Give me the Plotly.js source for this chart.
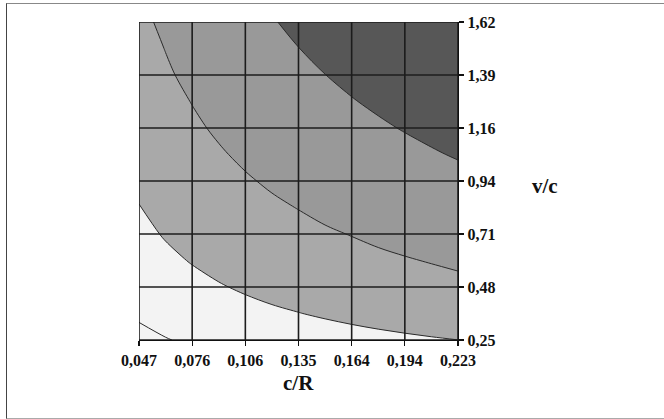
<!DOCTYPE html>
<html>
<head>
<meta charset="utf-8">
<script src="https://cdn.plot.ly/plotly-3.0.1.min.js"></script>
<style>
  html, body { margin: 0; padding: 0; background: #fff; }
  #wrap { position: relative; width: 664px; height: 419px; overflow: hidden; }
  #chart { position: absolute; left: 0; top: 0; width: 664px; height: 419px; }
  #frame { position: absolute; left: 6px; top: 3px; width: 700px; height: 416px; box-sizing: border-box;
           border-top: 1px solid #888; border-left: 1px solid #444; border-bottom: 1px solid #aaa; pointer-events: none; }
</style>
</head>
<body>
<div id="wrap"><div id="chart"></div><div id="frame"></div></div>
<script>
// c/R grid values (x)
const cR = [0.047, 0.06167, 0.07633, 0.0910, 0.10567, 0.12033, 0.1350, 0.14967, 0.16433, 0.1790, 0.19367, 0.20833, 0.2230];
// v/c grid values (y)
const vc = [0.25, 0.36417, 0.47833, 0.5925, 0.70667, 0.82083, 0.935, 1.04917, 1.16333, 1.2775, 1.39167, 1.50583, 1.62];
// level values (rows = v/c, columns = c/R)
const level = [
  [0.739, 0.959, 1.131, 1.273, 1.394, 1.499, 1.592, 1.675, 1.751, 1.820, 1.884, 1.943, 1.998],
  [1.132, 1.351, 1.524, 1.666, 1.786, 1.891, 1.984, 2.082, 2.174, 2.259, 2.336, 2.408, 2.475],
  [1.416, 1.635, 1.808, 1.950, 2.086, 2.214, 2.327, 2.429, 2.521, 2.605, 2.683, 2.755, 2.821],
  [1.639, 1.859, 2.038, 2.211, 2.358, 2.486, 2.599, 2.701, 2.793, 2.877, 2.955, 3.034, 3.119],
  [1.823, 2.052, 2.262, 2.435, 2.582, 2.710, 2.823, 2.925, 3.021, 3.128, 3.226, 3.317, 3.402],
  [1.979, 2.242, 2.452, 2.625, 2.772, 2.900, 3.017, 3.146, 3.262, 3.369, 3.468, 3.559, 3.643],
  [2.140, 2.407, 2.618, 2.791, 2.938, 3.083, 3.227, 3.356, 3.472, 3.579, 3.677, 3.768, 3.853],
  [2.286, 2.554, 2.764, 2.937, 3.107, 3.269, 3.412, 3.541, 3.658, 3.764, 3.863, 3.954, 4.039],
  [2.418, 2.685, 2.895, 3.086, 3.273, 3.435, 3.579, 3.707, 3.824, 3.931, 4.029, 4.120, 4.205],
  [2.537, 2.804, 3.018, 3.237, 3.424, 3.586, 3.729, 3.858, 3.975, 4.081, 4.180, 4.271, 4.356],
  [2.645, 2.913, 3.156, 3.375, 3.562, 3.724, 3.867, 3.996, 4.113, 4.219, 4.318, 4.409, 4.494],
  [2.746, 3.016, 3.283, 3.502, 3.689, 3.851, 3.994, 4.123, 4.240, 4.346, 4.445, 4.536, 4.621],
  [2.838, 3.134, 3.400, 3.620, 3.806, 3.968, 4.112, 4.241, 4.357, 4.464, 4.562, 4.653, 4.738]
];
// tick positions and labels
const xTickVals = [0.047, 0.07633, 0.10567, 0.135, 0.16433, 0.19367, 0.223];
const xTickText = ["0,047", "0,076", "0,106", "0,135", "0,164", "0,194", "0,223"];
const yTickVals = [0.25, 0.47833, 0.70667, 0.935, 1.16333, 1.39167, 1.62];
const yTickText = ["0,25", "0,48", "0,71", "0,94", "1,16", "1,39", "1,62"];

const tickFont = {family: "Liberation Serif, Times New Roman, serif", size: 16, color: "#111", weight: "bold"};
const titleFont = {family: "Liberation Serif, Times New Roman, serif", size: 21, color: "#111", weight: "bold"};

const trace = {
  type: "contour",
  x: cR, y: vc, z: level,
  showscale: false,
  hoverinfo: "skip",
  contours: {start: 1, end: 4, size: 1, coloring: "fill", showlabels: false},
  colorscale: [[0, "#f3f3f3"], [0.25, "#f3f3f3"], [0.5, "#a9a9a9"], [0.75, "#999999"], [1, "#575757"]],
  line: {color: "#2a2a2a", width: 1, smoothing: 1}
};

const gridLine = {color: "#1c1c1c", width: 1.6};
const shapes = [];
xTickVals.forEach(v => shapes.push({type: "line", xref: "x", yref: "paper", x0: v, x1: v, y0: 0, y1: 1, layer: "above", line: gridLine}));
yTickVals.forEach(v => shapes.push({type: "line", xref: "paper", yref: "y", x0: 0, x1: 1, y0: v, y1: v, layer: "above", line: gridLine}));

const layout = {
  width: 664, height: 419,
  margin: {l: 139, r: 206, t: 22, b: 79, pad: 0},
  paper_bgcolor: "#ffffff", plot_bgcolor: "#ffffff",
  showlegend: false,
  xaxis: {
    range: [0.047, 0.223], tickmode: "array", tickvals: xTickVals, ticktext: xTickText,
    ticks: "outside", ticklen: 5, tickcolor: "#111", tickwidth: 1.3,
    showgrid: false, zeroline: false, showline: true, linecolor: "#111", linewidth: 1.3, mirror: false,
    tickfont: tickFont, fixedrange: true
  },
  yaxis: {
    range: [0.25, 1.62], side: "right", tickmode: "array", tickvals: yTickVals, ticktext: yTickText,
    ticks: "outside", ticklen: 5, tickcolor: "#111", tickwidth: 1.3,
    showgrid: false, zeroline: false, showline: true, linecolor: "#111", linewidth: 1.3, mirror: false,
    tickfont: tickFont, fixedrange: true
  },
  shapes: shapes,
  annotations: [
    {text: "c/R", xref: "paper", yref: "paper", x: 0.5, y: -0.135, xanchor: "center", yanchor: "middle", showarrow: false, font: titleFont},
    {text: "v/c", xref: "paper", yref: "paper", x: 1.273, y: 0.484, xanchor: "center", yanchor: "middle", showarrow: false, font: titleFont}
  ]
};

Plotly.newPlot("chart", [trace], layout, {staticPlot: true, displayModeBar: false});
</script>
</body>
</html>
